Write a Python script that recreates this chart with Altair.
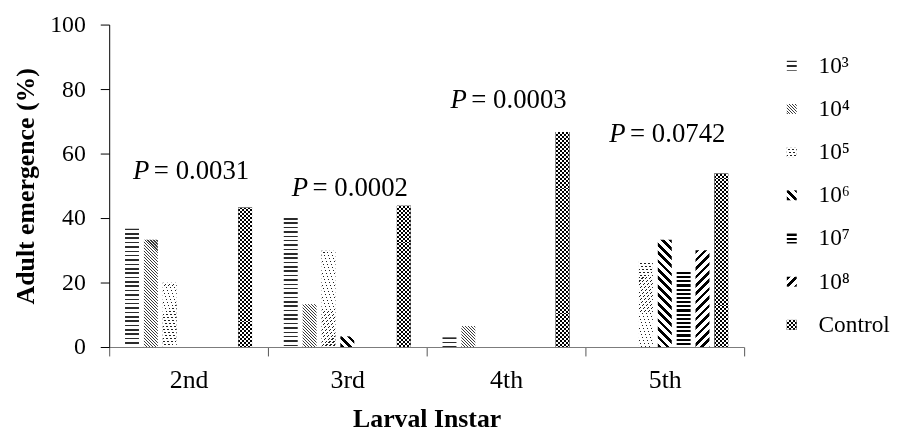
import altair as alt
import pandas as pd

# ---------------- data ----------------
INSTARS = ["2nd", "3rd", "4th", "5th"]
SERIES = ["10³", "10⁴", "10⁵", "10⁶", "10⁷", "10⁸", "Control"]
E_1E3 = [36.7, 40.0, 3.0, 0.0]
E_1E4 = [33.3, 13.3, 6.5, 0.0]
E_1E5 = [20.0, 30.0, 0.0, 26.7]
E_1E6 = [0.0, 3.3, 0.0, 33.3]
E_1E7 = [0.0, 0.0, 0.0, 23.3]
E_1E8 = [0.0, 0.0, 0.0, 30.0]
E_CTRL = [43.3, 43.8, 66.7, 53.8]
VALUES = [E_1E3, E_1E4, E_1E5, E_1E6, E_1E7, E_1E8, E_CTRL]
P_TEXT = ["= 0.0031", "= 0.0002", "= 0.0003", "= 0.0742"]
P_Y = [52.1, 46.7, 74.2, 63.5]

# ---------------- layout ----------------
W, H = 640, 325
FONT = "Liberation Serif"
PAD_IN, PAD_OUT = 0.26, 0.84
STEP_OFF = (W / len(INSTARS)) / (len(SERIES) - PAD_IN + 2 * PAD_OUT)
BW = STEP_OFF * (1 - PAD_IN)
TR = "rgba(255,255,255,0)"

# pattern layers per series: (kind, period, on-length, on colour, off colour, blend)
PATTERNS = [
    [("h", 4.4, 1.6, "#2b2b2b", "white", None)],
    [("bs", 3.0, 1.1, "#3a3a3a", "white", None)],
    [("fs", 4.0, 1.3, "#222222", "white", None), ("h", 3.0, 1.7, "white", TR, None)],
    [("bs", 8.5, 3.8, "black", "white", None)],
    [("h", 4.2, 2.2, "black", "white", None)],
    [("fs", 8.5, 3.6, "black", "white", None)],
    [("v", 4.0, 2.0, "black", "white", None), ("h", 4.0, 2.0, "white", TR, "difference")],
]


def grad(kind, period, on, c_on, c_off, w, h):
    if kind == "h":
        L = h
        x1, y1, x2, y2 = 0, 0, 0, 1
    elif kind == "v":
        L = w
        x1, y1, x2, y2 = 0, 0, 1, 0
    else:
        k = (w + h) / (w * w + h * h)
        L = w + h
        if kind == "fs":
            x1, y1, x2, y2 = 0, 0, k * w, k * h
        else:
            x1, y1, x2, y2 = 0, 1, k * w, 1 - k * h
    stops = []
    pos = 0.0
    while pos < L - 1e-9:
        for length, col in ((on, c_on), (period - on, c_off)):
            a0 = min(pos, L)
            b0 = min(pos + length, L)
            if b0 > a0:
                stops.append({"offset": round(a0 / L, 5), "color": col})
                stops.append({"offset": round(b0 / L, 5), "color": col})
            pos += length
    return {"gradient": "linear", "x1": round(x1, 5), "y1": round(y1, 5),
            "x2": round(x2, 5), "y2": round(y2, 5), "stops": stops}


x_axis = alt.Axis(title="Larval Instar", labelAngle=0, tickBand="extent", tickSize=9,
                  labelPadding=11, labelFont=FONT, labelFontSize=26, labelColor="black",
                  titleFont=FONT, titleFontSize=26, titleFontWeight="bold", titleColor="black",
                  titlePadding=13, domainColor="#7a7a7a", tickColor="#555555", grid=False)
y_axis = alt.Axis(title="Adult emergence (%)", values=[0, 20, 40, 60, 80, 100], grid=False,
                  tickSize=9, labelPadding=15, labelFont=FONT, labelFontSize=24,
                  labelColor="black", titleFont=FONT, titleFontSize=26, titleFontWeight="bold",
                  titleColor="black", titlePadding=11, domainColor="black", tickColor="black")

x_enc = alt.X("instar:N", scale=alt.Scale(domain=INSTARS, paddingInner=0, paddingOuter=0), axis=x_axis)
xo_enc = alt.XOffset("series:N", scale=alt.Scale(domain=SERIES, paddingInner=PAD_IN, paddingOuter=PAD_OUT))
y_enc = alt.Y("value:Q", scale=alt.Scale(domain=[0, 100]), axis=y_axis)

layers = []
for si, s in enumerate(SERIES):
    for ii, inst in enumerate(INSTARS):
        v = VALUES[si][ii]
        if v <= 0:
            continue
        df = pd.DataFrame({"instar": [inst], "series": [s], "value": [v]})
        hpx = v * H / 100.0
        for kind, period, on, c_on, c_off, blend in PATTERNS[si]:
            kw = dict(fill=grad(kind, period, on, c_on, c_off, BW, hpx))
            if blend:
                kw["blend"] = blend
            layers.append(alt.Chart(df).mark_bar(**kw).encode(x=x_enc, xOffset=xo_enc, y=y_enc))

df_p = pd.DataFrame({"instar": INSTARS, "value": P_Y, "label": P_TEXT})
layers.append(alt.Chart(df_p).mark_text(text="P", font=FONT, fontSize=27, fontStyle="italic",
                                        align="left", baseline="alphabetic", dx=-56, color="black")
              .encode(x=x_enc, y=y_enc))
layers.append(alt.Chart(df_p).mark_text(font=FONT, fontSize=27, align="left", baseline="alphabetic",
                                        dx=-35, color="black")
              .encode(x=x_enc, y=y_enc, text="label:N"))

main = alt.layer(*layers).properties(width=W, height=H)

# ---------------- legend ----------------
SW = 10
leg_y = alt.Y("series:N", scale=alt.Scale(domain=SERIES, range=[41.5, 302.7], padding=0), axis=None)
leg_layers = []
for si, s in enumerate(SERIES):
    df = pd.DataFrame({"series": [s]})
    for kind, period, on, c_on, c_off, blend in PATTERNS[si]:
        kw = dict(fill=grad(kind, period, on, c_on, c_off, SW, SW), size=SW * SW, opacity=1, strokeWidth=0)
        if blend:
            kw["blend"] = blend
        leg_layers.append(alt.Chart(df).mark_square(**kw).encode(y=leg_y, x=alt.value(47)))
df_leg = pd.DataFrame({"series": SERIES})
leg_layers.append(alt.Chart(df_leg).mark_text(font=FONT, fontSize=23.5, align="left", baseline="middle",
                                              color="black")
                  .encode(y=leg_y, x=alt.value(74), text="series:N"))
legend = alt.layer(*leg_layers).properties(width=130, height=H)

chart = (alt.hconcat(main, legend, spacing=0)
         .properties(padding={"left": 5, "top": 3, "right": 0, "bottom": 5}, background="white")
         .configure_view(stroke=None))

chart.save("out.html", embed_options={"renderer": "svg", "actions": False})
